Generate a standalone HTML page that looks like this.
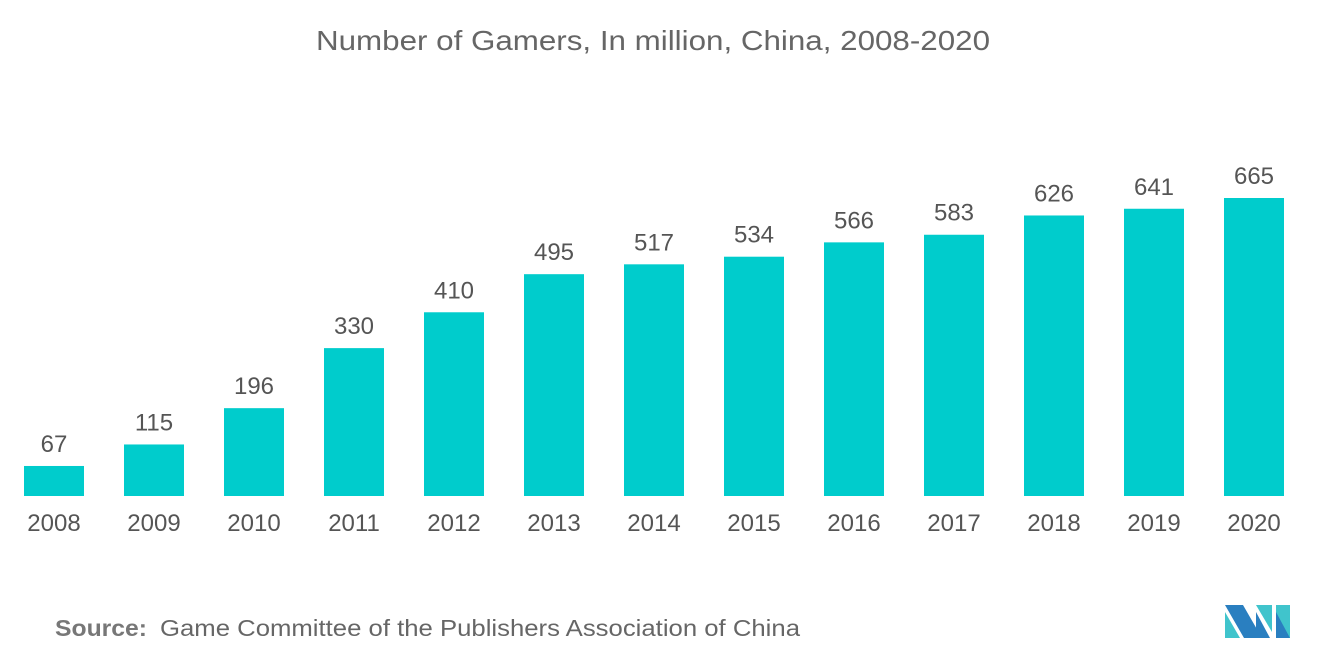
<!DOCTYPE html>
<html><head><meta charset="utf-8"><style>
body{margin:0;width:1320px;height:665px;background:#fff;overflow:hidden;font-family:"Liberation Sans",sans-serif}
</style></head><body>
<svg width="1320" height="665">
<text x="316" y="50" font-size="28" fill="#666" textLength="674" lengthAdjust="spacingAndGlyphs">Number of Gamers, In million, China, 2008-2020</text>
<g id="bars"></g>
<text x="55" y="636" font-size="23" font-weight="bold" fill="#777" textLength="92" lengthAdjust="spacingAndGlyphs">Source:</text>
<text x="160" y="636" font-size="23" fill="#666" textLength="640" lengthAdjust="spacingAndGlyphs">Game Committee of the Publishers Association of China</text>
<g>
<polygon points="1225,605 1243,605 1262,638 1244,638" fill="#2a7fc0"/>
<polygon points="1225,612 1225,638 1240,638" fill="#40c4cc"/>
<polygon points="1256,605 1272,605 1272,632" fill="#40c4cc"/>
<polygon points="1256,612 1270,638 1256,638" fill="#2a7fc0"/>
<polygon points="1276,605 1290,605 1290,638 1276,638" fill="#40c4cc"/>
<polygon points="1276,612 1290,638 1276,638" fill="#2a7fc0"/>
</g>
</svg>
<script>
const categories=["2008","2009","2010","2011","2012","2013","2014","2015","2016","2017","2018","2019","2020"];
const values=[67,115,196,330,410,495,517,534,566,583,626,641,665];
const base=496,scale=298/665;
function xPos(i){return 24+100*i;}
function yPos(v){return base-v*scale;}
const g=document.getElementById('bars');
const ns="http://www.w3.org/2000/svg";
categories.forEach((c,i)=>{
 const r=document.createElementNS(ns,'rect');
 r.setAttribute('x',xPos(i));r.setAttribute('y',yPos(values[i]));
 r.setAttribute('width',60);r.setAttribute('height',base-yPos(values[i]));
 r.setAttribute('fill','#00cccc');
 
 
 g.appendChild(r);
 const t=document.createElementNS(ns,'text');
 t.setAttribute('x',xPos(i)+30);t.setAttribute('y',yPos(values[i])-14);
 t.setAttribute('text-anchor','middle');t.setAttribute('font-size','24');t.setAttribute('fill','#555');
 t.textContent=values[i];
 
 
 g.appendChild(t);
 const y=document.createElementNS(ns,'text');
 y.setAttribute('x',xPos(i)+30);y.setAttribute('y',531);
 y.setAttribute('text-anchor','middle');y.setAttribute('font-size','24');y.setAttribute('fill','#555');
 y.textContent=c;
 
 
 g.appendChild(y);
});
</script>
</body></html>
